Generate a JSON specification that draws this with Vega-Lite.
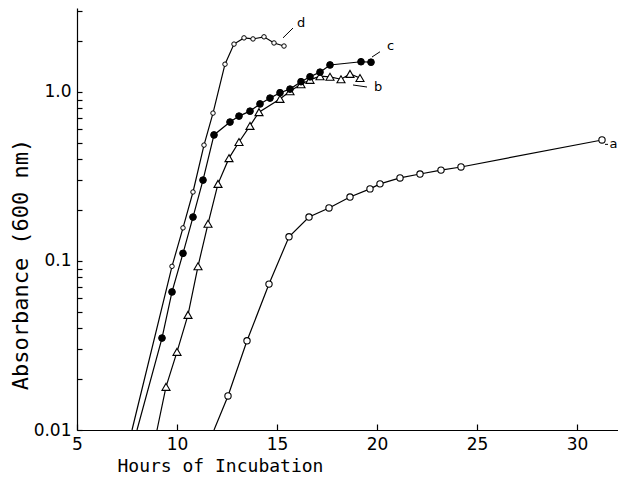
{
  "$schema": "https://vega.github.io/schema/vega-lite/v6.json",
  "autosize": {"type": "none"},
  "width": 541,
  "height": 422,
  "padding": {"left": 77, "top": 8, "right": 0, "bottom": 48},
  "background": "white",
  "config": {
    "view": {"stroke": null},
    "axis": {"domainColor": "black", "domainWidth": 1.2, "labelColor": "black", "titleColor": "black", "grid": false}
  },
  "datasets": {
    "curves": [
      {"series": "d", "h": 7.75, "A": 0.01, "m": false},
      {"series": "d", "h": 9.75, "A": 0.093, "m": true},
      {"series": "d", "h": 10.3, "A": 0.157, "m": true},
      {"series": "d", "h": 10.8, "A": 0.256, "m": true},
      {"series": "d", "h": 11.35, "A": 0.485, "m": true},
      {"series": "d", "h": 11.8, "A": 0.75, "m": true},
      {"series": "d", "h": 12.4, "A": 1.46, "m": true},
      {"series": "d", "h": 12.85, "A": 1.92, "m": true},
      {"series": "d", "h": 13.35, "A": 2.09, "m": true},
      {"series": "d", "h": 13.8, "A": 2.06, "m": true},
      {"series": "d", "h": 14.35, "A": 2.12, "m": true},
      {"series": "d", "h": 14.85, "A": 1.95, "m": true},
      {"series": "d", "h": 15.35, "A": 1.87, "m": true},
      {"series": "c", "h": 8.0, "A": 0.01, "m": false},
      {"series": "c", "h": 9.25, "A": 0.035, "m": true},
      {"series": "c", "h": 9.75, "A": 0.0656, "m": true},
      {"series": "c", "h": 10.3, "A": 0.111, "m": true},
      {"series": "c", "h": 10.8, "A": 0.182, "m": true},
      {"series": "c", "h": 11.3, "A": 0.301, "m": true},
      {"series": "c", "h": 11.85, "A": 0.557, "m": true},
      {"series": "c", "h": 12.65, "A": 0.664, "m": true},
      {"series": "c", "h": 13.1, "A": 0.72, "m": true},
      {"series": "c", "h": 13.65, "A": 0.77, "m": true},
      {"series": "c", "h": 14.15, "A": 0.85, "m": true},
      {"series": "c", "h": 14.65, "A": 0.92, "m": true},
      {"series": "c", "h": 15.15, "A": 0.99, "m": true},
      {"series": "c", "h": 15.65, "A": 1.04, "m": true},
      {"series": "c", "h": 16.2, "A": 1.15, "m": true},
      {"series": "c", "h": 16.65, "A": 1.23, "m": true},
      {"series": "c", "h": 17.15, "A": 1.31, "m": true},
      {"series": "c", "h": 17.65, "A": 1.445, "m": true},
      {"series": "c", "h": 19.2, "A": 1.51, "m": true},
      {"series": "c", "h": 19.7, "A": 1.5, "m": true},
      {"series": "b", "h": 9.0, "A": 0.01, "m": false},
      {"series": "b", "h": 9.45, "A": 0.018, "m": true},
      {"series": "b", "h": 10.0, "A": 0.029, "m": true},
      {"series": "b", "h": 10.55, "A": 0.048, "m": true},
      {"series": "b", "h": 11.05, "A": 0.093, "m": true},
      {"series": "b", "h": 11.55, "A": 0.166, "m": true},
      {"series": "b", "h": 12.05, "A": 0.286, "m": true},
      {"series": "b", "h": 12.6, "A": 0.406, "m": true},
      {"series": "b", "h": 13.1, "A": 0.506, "m": true},
      {"series": "b", "h": 13.65, "A": 0.63, "m": true},
      {"series": "b", "h": 14.1, "A": 0.76, "m": true},
      {"series": "b", "h": 15.15, "A": 0.91, "m": true},
      {"series": "b", "h": 15.65, "A": 1.01, "m": true},
      {"series": "b", "h": 16.2, "A": 1.11, "m": true},
      {"series": "b", "h": 16.65, "A": 1.18, "m": true},
      {"series": "b", "h": 17.15, "A": 1.24, "m": true},
      {"series": "b", "h": 17.65, "A": 1.23, "m": true},
      {"series": "b", "h": 18.2, "A": 1.19, "m": true},
      {"series": "b", "h": 18.65, "A": 1.28, "m": true},
      {"series": "b", "h": 19.15, "A": 1.21, "m": true},
      {"series": "a", "h": 11.85, "A": 0.01, "m": false},
      {"series": "a", "h": 12.55, "A": 0.0159, "m": true},
      {"series": "a", "h": 13.5, "A": 0.0337, "m": true},
      {"series": "a", "h": 14.6, "A": 0.073, "m": true},
      {"series": "a", "h": 15.6, "A": 0.139, "m": true},
      {"series": "a", "h": 16.6, "A": 0.182, "m": true},
      {"series": "a", "h": 17.6, "A": 0.206, "m": true},
      {"series": "a", "h": 18.65, "A": 0.239, "m": true},
      {"series": "a", "h": 19.65, "A": 0.267, "m": true},
      {"series": "a", "h": 20.15, "A": 0.286, "m": true},
      {"series": "a", "h": 21.15, "A": 0.31, "m": true},
      {"series": "a", "h": 22.15, "A": 0.327, "m": true},
      {"series": "a", "h": 23.2, "A": 0.345, "m": true},
      {"series": "a", "h": 24.2, "A": 0.36, "m": true},
      {"series": "a", "h": 31.25, "A": 0.52, "m": true}
    ],
    "labels": [
      {"text": "d", "h": 16.0, "A": 2.56},
      {"text": "c", "h": 20.5, "A": 1.87},
      {"text": "b", "h": 19.85, "A": 1.07},
      {"text": "a", "h": 31.62, "A": 0.49}
    ],
    "leaders": [
      {"h": 15.3, "A": 2.09, "h2": 15.8, "A2": 2.39},
      {"h": 19.75, "A": 1.61, "h2": 20.15, "A2": 1.73},
      {"h": 18.8, "A": 1.1, "h2": 19.5, "A2": 1.07},
      {"h": 31.4, "A": 0.49, "h2": 31.55, "A2": 0.49}
    ]
  },
  "layer": [
    {
      "data": {"name": "curves"},
      "mark": {"type": "line", "color": "black", "strokeWidth": 1.2},
      "encoding": {
        "x": {"field": "h", "type": "quantitative", "scale": {"domain": [5, 32.05], "nice": false, "zero": false},
          "axis": {"values": [5, 10, 15, 20, 25, 30], "ticks": true, "tickSize": -6, "tickWidth": 1.2, "tickColor": "#000000", "tickOpacity": 1, "labelPadding": 12, "labelFont": "DejaVu Sans", "labelFontSize": 17, "labelFlush": false,
            "title": "Hours of Incubation", "titleFont": "DejaVu Sans Mono", "titleFontSize": 18, "titleFontWeight": "normal", "titleAnchor": "start", "titleAlign": "left", "titleX": 40, "titleY": 27, "titleBaseline": "top"}},
        "y": {"field": "A", "type": "quantitative", "scale": {"type": "log", "domain": [0.01, 3.14], "nice": false, "zero": false},
          "axis": {"values": [0.01, 0.02, 0.03, 0.04, 0.05, 0.06, 0.07, 0.08, 0.09, 0.1, 0.2, 0.3, 0.4, 0.5, 0.6, 0.7, 0.8, 0.9, 1, 2, 3],
            "labelExpr": "datum.value == 0.01 ? '0.01' : datum.value == 0.1 ? '0.1' : datum.value == 1 ? '1.0' : ''",
            "ticks": true, "tickSize": -5, "tickWidth": 1.2, "tickColor": "#000000", "tickOpacity": 1, "labelPadding": 11, "labelFont": "DejaVu Sans", "labelFontSize": 17, "labelFlush": false, "labelOverlap": false,
            "title": "Absorbance (600 nm)", "titleFont": "DejaVu Sans Mono", "titleFontSize": 22, "titleFontWeight": "normal", "titleAnchor": "start", "titleAlign": "center", "titleX": -57, "titleY": 256, "titleBaseline": "middle", "titleAngle": -90}},
        "detail": {"field": "series"},
        "order": {"field": "h", "type": "quantitative"}
      }
    },
    {
      "data": {"name": "curves"},
      "transform": [{"filter": "datum.m && datum.series == 'a'"}],
      "mark": {"type": "point", "shape": "circle", "size": 40, "filled": true, "fill": "white", "stroke": "black", "strokeWidth": 1.1, "opacity": 1},
      "encoding": {"x": {"field": "h", "type": "quantitative"}, "y": {"field": "A", "type": "quantitative"}}
    },
    {
      "data": {"name": "curves"},
      "transform": [{"filter": "datum.m && datum.series == 'b'"}],
      "mark": {"type": "point", "shape": "triangle-up", "size": 65, "filled": true, "fill": "white", "stroke": "black", "strokeWidth": 1.1, "opacity": 1},
      "encoding": {"x": {"field": "h", "type": "quantitative"}, "y": {"field": "A", "type": "quantitative"}}
    },
    {
      "data": {"name": "curves"},
      "transform": [{"filter": "datum.m && datum.series == 'c'"}],
      "mark": {"type": "point", "shape": "circle", "size": 45, "filled": true, "fill": "black", "stroke": "black", "strokeWidth": 1, "opacity": 1},
      "encoding": {"x": {"field": "h", "type": "quantitative"}, "y": {"field": "A", "type": "quantitative"}}
    },
    {
      "data": {"name": "curves"},
      "transform": [{"filter": "datum.m && datum.series == 'd'"}],
      "mark": {"type": "point", "shape": "circle", "size": 20, "filled": true, "fill": "white", "stroke": "black", "strokeWidth": 1, "opacity": 1},
      "encoding": {"x": {"field": "h", "type": "quantitative"}, "y": {"field": "A", "type": "quantitative"}}
    },
    {
      "data": {"name": "leaders"},
      "mark": {"type": "rule", "color": "black", "strokeWidth": 1},
      "encoding": {
        "x": {"field": "h", "type": "quantitative"},
        "y": {"field": "A", "type": "quantitative"},
        "x2": {"field": "h2"},
        "y2": {"field": "A2"}
      }
    },
    {
      "data": {"name": "labels"},
      "mark": {"type": "text", "font": "DejaVu Sans", "fontSize": 13, "color": "black", "align": "left", "baseline": "middle"},
      "encoding": {
        "x": {"field": "h", "type": "quantitative"},
        "y": {"field": "A", "type": "quantitative"},
        "text": {"field": "text"}
      }
    }
  ]
}
